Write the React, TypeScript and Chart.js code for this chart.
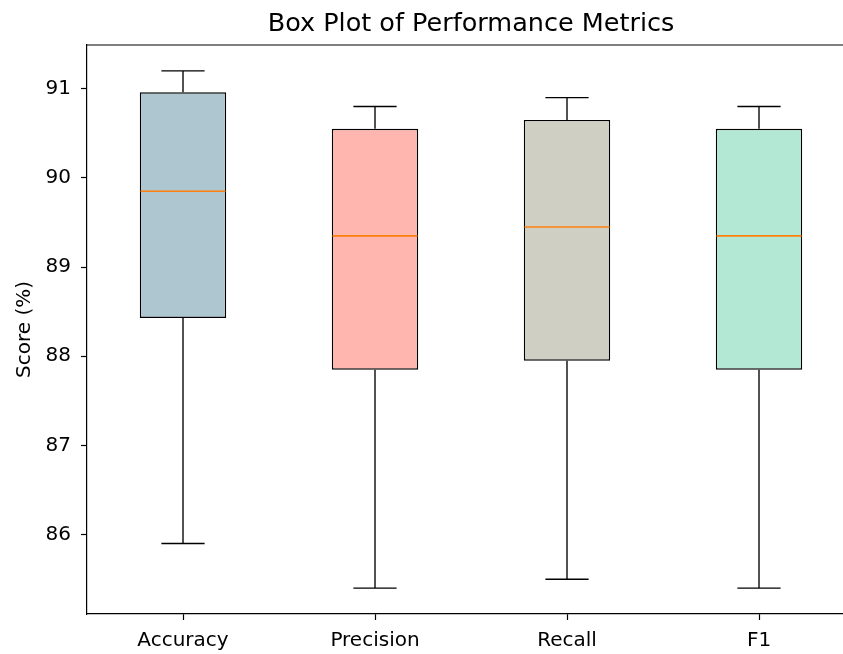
import React, { useEffect, useRef } from "react";
import { Chart, registerables } from "chart.js";

Chart.register(...registerables);

const categories = ["Accuracy", "Precision", "Recall", "F1"];
const minValues = [85.9, 85.4, 85.5, 85.4];
const q1Values = [88.43, 87.85, 87.95, 87.85];
const medianValues = [89.85, 89.35, 89.45, 89.35];
const q3Values = [90.96, 90.55, 90.65, 90.55];
const maxValues = [91.2, 90.8, 90.9, 90.8];
const yTicks = [86, 87, 88, 89, 90, 91];
const boxColors = ["#AEC6CF", "#FFB6AF", "#CFCFC4", "#B3E8D4"];

const titleText = "Box Plot of Performance Metrics";
const yLabel = "Score (%)";
const FONT = "'DejaVu Sans', sans-serif";

const boxPlugin = {
  id: "boxExtras",
  beforeDatasetsDraw(chart: any) {
    const { ctx, scales } = chart;
    const x = scales.x;
    const y = scales.y;
    const meta = chart.getDatasetMeta(0);
    ctx.save();
    ctx.strokeStyle = "#000";
    ctx.lineWidth = 1.35;
    categories.forEach((_, i) => {
      const bar = meta.data[i];
      const cx = x.getPixelForValue(i);
      const half = bar ? bar.width / 2 : 40;
      const capHalf = half / 2;
      const pMin = y.getPixelForValue(minValues[i]);
      const pMax = y.getPixelForValue(maxValues[i]);
      const pQ1 = y.getPixelForValue(q1Values[i]);
      const pQ3 = y.getPixelForValue(q3Values[i]);
      ctx.beginPath();
      ctx.moveTo(cx, pQ1);
      ctx.lineTo(cx, pMin);
      ctx.moveTo(cx, pQ3);
      ctx.lineTo(cx, pMax);
      ctx.moveTo(cx - capHalf, pMin);
      ctx.lineTo(cx + capHalf, pMin);
      ctx.moveTo(cx - capHalf, pMax);
      ctx.lineTo(cx + capHalf, pMax);
      ctx.stroke();
    });
    ctx.restore();
  },
  afterDatasetsDraw(chart: any) {
    const { ctx, scales, chartArea } = chart;
    const x = scales.x;
    const y = scales.y;
    const meta = chart.getDatasetMeta(0);
    ctx.save();
    ctx.strokeStyle = "#FF7F0E";
    ctx.lineWidth = 1.6;
    categories.forEach((_, i) => {
      const bar = meta.data[i];
      const cx = x.getPixelForValue(i);
      const half = bar ? bar.width / 2 : 40;
      const pMed = y.getPixelForValue(medianValues[i]);
      ctx.beginPath();
      ctx.moveTo(cx - half + 0.7, pMed);
      ctx.lineTo(cx + half - 0.7, pMed);
      ctx.stroke();
    });
    // spines top & right
    ctx.strokeStyle = "#000";
    ctx.lineWidth = 1.2;
    ctx.beginPath();
    ctx.moveTo(chartArea.left, chartArea.top);
    ctx.lineTo(chartArea.right, chartArea.top);
    ctx.lineTo(chartArea.right, chartArea.bottom);
    ctx.stroke();
    // title
    ctx.fillStyle = "#000";
    ctx.font = `25.5px ${FONT}`;
    ctx.textAlign = "center";
    ctx.textBaseline = "alphabetic";
    ctx.fillText(titleText, (chartArea.left + chartArea.right) / 2, 31);
    // y label
    ctx.save();
    ctx.translate(30, (chartArea.top + chartArea.bottom) / 2);
    ctx.rotate(-Math.PI / 2);
    ctx.font = `20px ${FONT}`;
    ctx.textAlign = "center";
    ctx.textBaseline = "alphabetic";
    ctx.fillText(yLabel, 0, 0);
    ctx.restore();
    ctx.restore();
  },
};

export default function App() {
  const ref = useRef<HTMLCanvasElement | null>(null);
  useEffect(() => {
    if (!ref.current) return;
    const chart = new Chart(ref.current, {
      type: "bar",
      data: {
        labels: categories,
        datasets: [
          {
            data: categories.map((_, i) => [q1Values[i], q3Values[i]]) as any,
            backgroundColor: boxColors,
            borderColor: "#000",
            borderWidth: 1.4,
            borderSkipped: false,
            barPercentage: 0.45,
            categoryPercentage: 1,
          },
        ],
      },
      options: {
        animation: false,
        responsive: false,
        layout: { padding: { top: 45, right: 15, left: 0, bottom: 0 } },
        plugins: {
          legend: { display: false },
          tooltip: { enabled: false },
          title: { display: false },
        },
        scales: {
          x: {
            offset: true,
            grid: {
              display: true,
              offset: false,
              drawOnChartArea: false,
              drawTicks: true,
              tickLength: 6,
              tickWidth: 1.2,
              color: "#000",
            },
            border: { display: true, color: "#000", width: 1.2 },
            ticks: {
              color: "#000",
              font: { family: FONT, size: 20 },
              padding: 9,
              maxRotation: 0,
            },
            afterFit: (s: any) => {
              s.height = 40;
            },
          },
          y: {
            min: 85.11,
            max: 91.49,
            grid: {
              display: true,
              drawOnChartArea: false,
              drawTicks: true,
              tickLength: 6,
              tickWidth: 1.2,
              color: "#000",
            },
            border: { display: true, color: "#000", width: 1.2 },
            ticks: {
              color: "#000",
              font: { family: FONT, size: 20 },
              padding: 10,
              includeBounds: false,
            },
            afterBuildTicks: (s: any) => {
              s.ticks = yTicks.map((v) => ({ value: v }));
            },
            afterFit: (s: any) => {
              s.width = 87;
            },
          },
        },
      },
      plugins: [boxPlugin],
    });
    return () => chart.destroy();
  }, []);
  return (
    <div
      style={{
        position: "absolute",
        left: 0,
        top: 0,
        width: 843,
        height: 654,
        overflow: "hidden",
        background: "#fff",
      }}
    >
      <canvas ref={ref} width={870} height={654} style={{ width: 870, height: 654, display: "block" }} />
    </div>
  );
}
